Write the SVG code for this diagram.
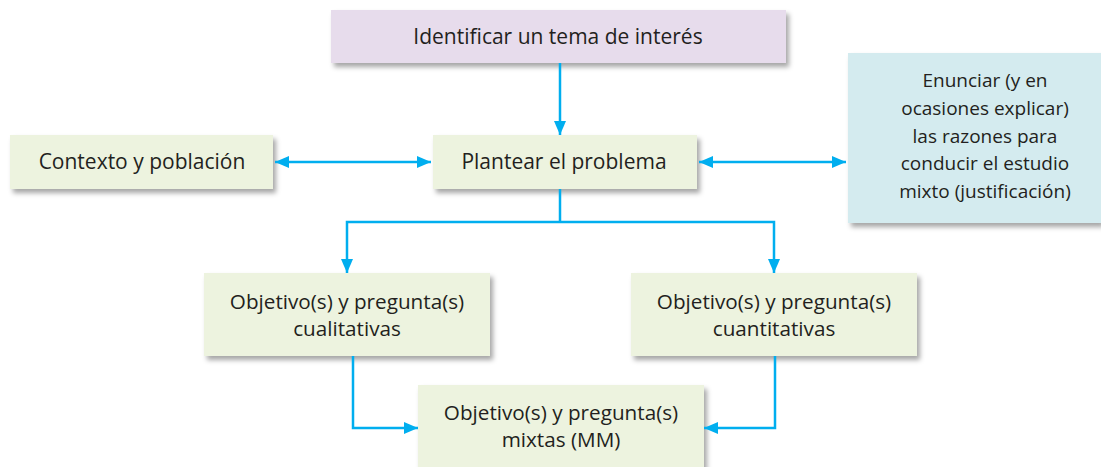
<svg xmlns="http://www.w3.org/2000/svg" width="1101" height="467" viewBox="0 0 1101 467">
<defs>
<filter id="sh" x="-10%" y="-20%" width="130%" height="160%">
<feDropShadow dx="3" dy="4" stdDeviation="2.5" flood-color="#000" flood-opacity="0.35"/>
</filter>
<marker id="ah" viewBox="0 0 14 12" refX="14" refY="6" markerWidth="14" markerHeight="12" markerUnits="userSpaceOnUse" orient="auto-start-reverse">
<path d="M0,0 L14,6 L0,12 Z" fill="#00aeef"/>
</marker>
</defs>
<style>
.g{fill:#edf3df;filter:url(#sh)}
.p{fill:#e7dcec;filter:url(#sh)}
.b{fill:#d4ebef;filter:url(#sh)}
text{font-family:"Open Sans","Liberation Sans",sans-serif;font-size:19px;fill:#231f20;text-anchor:middle}
.l{font-size:21px}
.m{font-size:20.7px}
.c{fill:none;stroke:#00aeef;stroke-width:2.5}
</style>
<rect width="1101" height="467" fill="#fff"/>
<g id="n-identificar"><rect class="p" x="331" y="10" width="455" height="53"/><text class="l" x="558" y="44">Identificar un tema de interés</text></g>
<g id="n-contexto"><rect class="g" x="10" y="135" width="263" height="54"/><text class="l" x="142" y="169">Contexto y población</text></g>
<g id="n-plantear"><rect class="g" x="433" y="135" width="264" height="54"/><text class="l" x="564" y="169">Plantear el problema</text></g>
<g id="n-enunciar"><rect class="b" x="848" y="53" width="253" height="170"/>
<text x="985" y="87">Enunciar (y en</text><text x="985" y="115">ocasiones explicar)</text><text x="985" y="143">las razones para</text><text x="985" y="170">conducir el estudio</text><text x="985" y="198">mixto (justificación)</text></g>
<g id="n-cualitativas"><rect class="g" x="204" y="273" width="286" height="83"/><text class="m" x="347" y="309">Objetivo(s) y pregunta(s)</text><text class="m" x="347" y="336">cualitativas</text></g>
<g id="n-cuantitativas"><rect class="g" x="631" y="273" width="286" height="83"/><text class="m" x="774" y="309">Objetivo(s) y pregunta(s)</text><text class="m" x="774" y="336">cuantitativas</text></g>
<g id="n-mixtas"><rect class="g" x="418" y="385" width="286" height="90"/><text class="m" x="561" y="420">Objetivo(s) y pregunta(s)</text><text class="m" x="561" y="447">mixtas (MM)</text></g>
<g id="connectors">
<path class="c" d="M560,63 V135" marker-end="url(#ah)"/>
<path class="c" d="M275,162 H431" marker-start="url(#ah)" marker-end="url(#ah)"/>
<path class="c" d="M699,162 H846" marker-start="url(#ah)" marker-end="url(#ah)"/>
<path class="c" d="M560,189 V223"/>
<path class="c" d="M560,222 H347 V273" marker-end="url(#ah)"/>
<path class="c" d="M560,222 H774 V273" marker-end="url(#ah)"/>
<path class="c" d="M353,356 V428 H418" marker-end="url(#ah)"/>
<path class="c" d="M775,356 V428 H704" marker-end="url(#ah)"/>
</g>
</svg>
